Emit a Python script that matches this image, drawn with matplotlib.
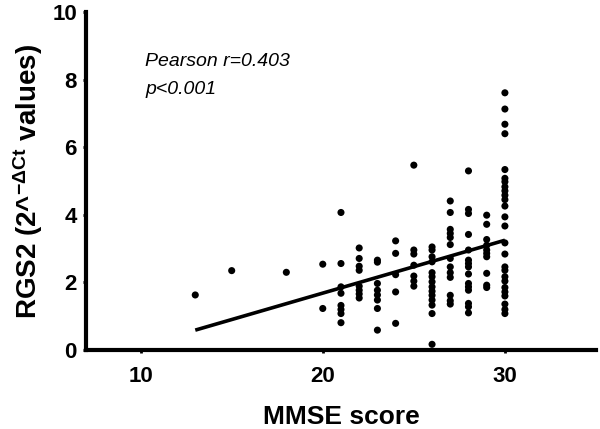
import numpy as np
import matplotlib
matplotlib.use("Agg")
import matplotlib.pyplot as plt

plt.rcParams['font.family'] = ['Liberation Sans', 'DejaVu Sans']
plt.rcParams['mathtext.default'] = 'regular'

# RGS2 expression read per MMSE score
score_levels = [13, 15, 18, 20, 21, 22, 23, 24, 25, 26, 27, 28, 29, 30]
rgs2_by_score = [
    [1.63],
    [2.35],
    [2.30],
    [2.54, 1.23],
    [4.07, 2.56, 1.87, 1.68, 1.32, 1.20, 1.08, 0.81],
    [3.02, 2.71, 2.48, 2.36, 1.89, 1.77, 1.66, 1.54],
    [2.66, 2.60, 1.97, 1.77, 1.63, 1.48, 1.23, 0.59],
    [3.23, 2.86, 2.23, 1.72, 0.79],
    [5.47, 2.96, 2.84, 2.51, 2.19, 2.04, 1.89],
    [3.05, 2.96, 2.76, 2.61, 2.29, 2.17, 2.02, 1.87, 1.74, 1.62, 1.48, 1.33, 1.08, 0.17],
    [4.41, 4.07, 3.57, 3.45, 3.33, 3.12, 2.71, 2.46, 2.29, 2.15, 1.62, 1.46, 1.36],
    [5.30, 4.16, 4.04, 3.42, 2.96, 2.66, 2.56, 2.46, 2.25, 1.97, 1.87, 1.77, 1.38, 1.28, 1.10],
    [3.99, 3.72, 3.27, 3.10, 2.96, 2.86, 2.76, 2.27, 1.92, 1.85],
    [7.61, 7.13, 6.68, 6.40, 5.34, 5.08, 4.98, 4.83, 4.71, 4.58, 4.45, 4.26, 3.94,
     3.67, 3.17, 2.84, 2.46, 2.36, 2.17, 2.04, 1.85, 1.72, 1.60, 1.36, 1.20, 1.08],
]

mmse = np.concatenate([[s] * len(v) for s, v in zip(score_levels, rgs2_by_score)])
rgs2 = np.concatenate(rgs2_by_score)

slope, intercept = np.polyfit(mmse, rgs2, 1)
fit_x = np.array([mmse.min(), mmse.max()])

fig = plt.figure(figsize=(6, 4.29), dpi=100)
ax = fig.add_axes([0.1433, 0.184, 0.85, 0.788])

ax.scatter(mmse, rgs2, s=26, color='black', edgecolors='none', zorder=3)
ax.plot(fit_x, slope * fit_x + intercept, color='black', lw=2.6, solid_capstyle='butt')

ax.set_xlim(7, 35)
ax.set_ylim(0, 10)
ax.set_xticks([10, 20, 30])
ax.set_yticks([0, 2, 4, 6, 8, 10])

for side in ['top', 'right']:
    ax.spines[side].set_visible(False)
for side in ['left', 'bottom']:
    ax.spines[side].set_linewidth(3)
ax.tick_params(axis='both', width=2, length=2.5, labelsize=16)
ax.tick_params(axis='x', pad=9)
ax.tick_params(axis='y', pad=4)
for lbl in ax.get_xticklabels() + ax.get_yticklabels():
    lbl.set_fontweight('bold')

ax.set_xlabel('MMSE score', fontsize=19, fontweight='bold', labelpad=13)
ax.set_ylabel(r'RGS2 (2^$^{\mathregular{-\Delta Ct}}$ values)', fontsize=20,
              fontweight='bold', labelpad=5)

ax.text(0.116, 0.855, 'Pearson r=0.403', transform=ax.transAxes, fontsize=14,
        style='italic', va='center')
ax.text(0.116, 0.772, 'p<0.001', transform=ax.transAxes, fontsize=14,
        style='italic', va='center')

fig.savefig('out.png', dpi=100)
